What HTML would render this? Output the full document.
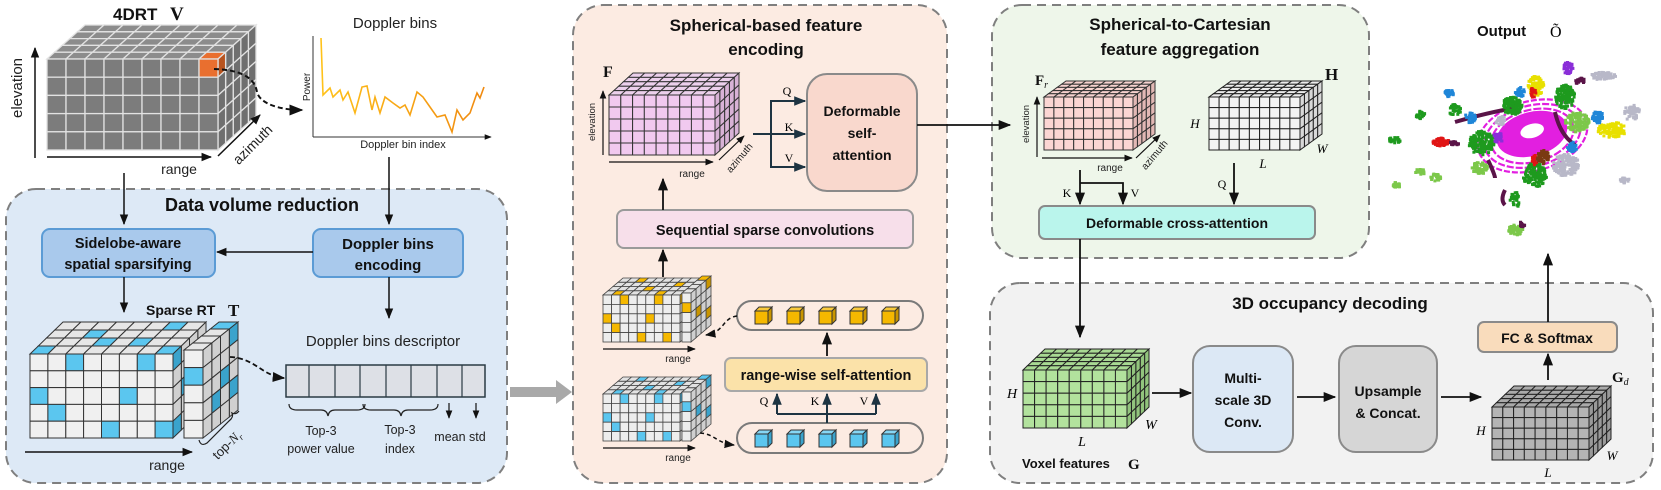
<!DOCTYPE html>
<html><head><meta charset="utf-8"><style>
html,body{margin:0;padding:0;background:#fff;}
svg{display:block;font-family:"Liberation Sans",sans-serif;}
.t{font-weight:bold;fill:#111;}
.s{font-family:"Liberation Serif",serif;}
</style></head><body>
<svg id="sv" width="1661" height="490" viewBox="0 0 1661 490" xmlns="http://www.w3.org/2000/svg">
<defs>
<marker id="ah" viewBox="0 0 10 10" refX="9" refY="5" markerWidth="7" markerHeight="7" orient="auto-start-reverse"><path d="M0,1 L10,5 L0,9 z" fill="#111"/></marker>
<marker id="ahs" viewBox="0 0 10 10" refX="9" refY="5" markerWidth="6" markerHeight="6" orient="auto"><path d="M0,1 L10,5 L0,9 z" fill="#1e3442"/></marker>
<linearGradient id="dg" x1="0" x2="1"><stop offset="0" stop-color="#ffc21a"/><stop offset="1" stop-color="#f08a10"/></linearGradient>
</defs>
<rect x="6" y="189" width="501" height="294" rx="30" fill="#dde9f6" stroke="#7f7f7f" stroke-width="2" stroke-dasharray="9,6"/>
<rect x="573" y="5" width="374" height="478" rx="30" fill="#fcebe2" stroke="#7f7f7f" stroke-width="2" stroke-dasharray="9,6"/>
<rect x="992" y="5" width="377" height="253" rx="30" fill="#eef6ea" stroke="#7f7f7f" stroke-width="2" stroke-dasharray="9,6"/>
<rect x="990" y="283" width="663" height="200" rx="30" fill="#f2f2f2" stroke="#7f7f7f" stroke-width="2" stroke-dasharray="9,6"/>
<g id="cubes"></g>
<g id="pc"></g>
<path d="M510,387 L556,387 L556,380 L572,392 L556,404 L556,397 L510,397 z" fill="#a9a9a9"/>

<text x="113" y="20" class="t" font-size="17">4DRT</text>
<text x="170" y="20" class="t s" font-size="19">V</text>
<line x1="35" y1="158" x2="35" y2="48" stroke="#111" stroke-width="1.5" marker-end="url(#ah)"/>
<text transform="translate(22,88) rotate(-90)" text-anchor="middle" font-size="15" fill="#222">elevation</text>
<line x1="47" y1="157" x2="211" y2="157" stroke="#111" stroke-width="1.5" marker-end="url(#ah)"/>
<text x="179" y="174" text-anchor="middle" font-size="14" fill="#222">range</text>
<line x1="218" y1="156" x2="260" y2="115" stroke="#111" stroke-width="1.5" marker-end="url(#ah)"/>
<text transform="translate(256,148) rotate(-45)" text-anchor="middle" font-size="14" fill="#222">azimuth</text>
<path d="M214,69 C245,70 255,80 257,92 C260,104 280,110 302,110" fill="none" stroke="#111" stroke-width="2" stroke-dasharray="5,3" marker-end="url(#ah)"/>

<text x="395" y="28" text-anchor="middle" font-size="15" fill="#222">Doppler bins</text>
<line x1="313" y1="137" x2="313" y2="36" stroke="#333" stroke-width="1"/>
<line x1="313" y1="137" x2="491" y2="137" stroke="#333" stroke-width="1" marker-end="url(#ah)"/>
<text transform="translate(310,87) rotate(-90)" text-anchor="middle" font-size="10" fill="#222">Power</text>
<text x="403" y="148" text-anchor="middle" font-size="11" fill="#222">Doppler bin index</text>
<polyline fill="none" stroke="url(#dg)" stroke-width="1.6" points="321,38 323,95 330,88 333,97 340,90 343,100 348,92 355,113 362,87 367,86 372,110 375,97 380,113 385,97 393,103 400,108 405,105 410,115 417,92 423,97 430,107 437,117 445,115 452,132 457,110 463,120 470,113 477,93 480,98 484,87"/>

<line x1="124" y1="173" x2="124" y2="224" stroke="#111" stroke-width="1.5" marker-end="url(#ah)"/>
<line x1="389" y1="157" x2="389" y2="224" stroke="#111" stroke-width="1.5" marker-end="url(#ah)"/>

<text x="262" y="211" text-anchor="middle" class="t" font-size="18">Data volume reduction</text>
<rect x="42" y="229" width="173" height="48" rx="8" fill="#a9c9ec" stroke="#5b9bd5" stroke-width="2"/>
<text x="128" y="248" text-anchor="middle" class="t" font-size="14.5">Sidelobe-aware</text>
<text x="128" y="269" text-anchor="middle" class="t" font-size="14.5">spatial sparsifying</text>
<rect x="313" y="229" width="150" height="48" rx="8" fill="#a9c9ec" stroke="#5b9bd5" stroke-width="2"/>
<text x="388" y="249" text-anchor="middle" class="t" font-size="15">Doppler bins</text>
<text x="388" y="270" text-anchor="middle" class="t" font-size="15">encoding</text>
<line x1="313" y1="252" x2="217" y2="252" stroke="#111" stroke-width="1.5" marker-end="url(#ah)"/>
<line x1="124" y1="277" x2="124" y2="312" stroke="#111" stroke-width="1.5" marker-end="url(#ah)"/>
<line x1="389" y1="277" x2="389" y2="318" stroke="#111" stroke-width="1.5" marker-end="url(#ah)"/>
<text x="146" y="315" class="t" font-size="14">Sparse RT</text>
<text x="228" y="316" class="t s" font-size="17">T</text>
<text x="383" y="346" text-anchor="middle" font-size="15" fill="#222">Doppler bins descriptor</text>
<g id="desc"></g>
<path d="M230,357 C255,358 262,376 284,378" fill="none" stroke="#111" stroke-width="1.8" stroke-dasharray="5,3" marker-end="url(#ah)"/>
<path d="M289,404 q0,6 8,6 h24 q6,0 7,6 q1,-6 7,-6 h22 q8,0 8,-6" fill="none" stroke="#222" stroke-width="1.2"/>
<path d="M363,404 q0,6 8,6 h23 q6,0 7,6 q1,-6 7,-6 h22 q8,0 8,-6" fill="none" stroke="#222" stroke-width="1.2"/>
<line x1="449" y1="403" x2="449" y2="418" stroke="#111" stroke-width="1.2" marker-end="url(#ah)"/>
<line x1="476" y1="403" x2="476" y2="418" stroke="#111" stroke-width="1.2" marker-end="url(#ah)"/>
<text x="321" y="435" text-anchor="middle" font-size="12.5" fill="#222">Top-3</text>
<text x="321" y="453" text-anchor="middle" font-size="12.5" fill="#222">power value</text>
<text x="400" y="434" text-anchor="middle" font-size="12.5" fill="#222">Top-3</text>
<text x="400" y="453" text-anchor="middle" font-size="12.5" fill="#222">index</text>
<text x="460" y="441" text-anchor="middle" font-size="12.5" fill="#222">mean std</text>
<path d="M199,440 q2,7 8,3 l22,-22 q5,-4 3,-8 q4,2 7,-2" fill="none" stroke="#222" stroke-width="1.2"/>
<text transform="translate(230,448) rotate(-45)" text-anchor="middle" font-size="13" fill="#222">top-<tspan class="s" font-style="italic">N<tspan font-size="9" dy="3">r</tspan></tspan></text>
<line x1="25" y1="452" x2="192" y2="452" stroke="#111" stroke-width="1.5" marker-end="url(#ah)"/>
<text x="167" y="470" text-anchor="middle" font-size="14" fill="#222">range</text>

<text x="766" y="31" text-anchor="middle" class="t" font-size="17">Spherical-based feature</text>
<text x="766" y="55" text-anchor="middle" class="t" font-size="17">encoding</text>
<text x="603" y="77" class="t s" font-size="16">F</text>
<line x1="603" y1="155" x2="603" y2="91" stroke="#111" stroke-width="1.2" marker-end="url(#ah)"/>
<text transform="translate(595,122) rotate(-90)" text-anchor="middle" font-size="9.5" fill="#222">elevation</text>
<line x1="609" y1="162" x2="713" y2="162" stroke="#111" stroke-width="1.2" marker-end="url(#ah)"/>
<text x="692" y="177" text-anchor="middle" font-size="10" fill="#222">range</text>
<line x1="719" y1="160" x2="744" y2="136" stroke="#111" stroke-width="1.2" marker-end="url(#ah)"/>
<text transform="translate(742,160) rotate(-50)" text-anchor="middle" font-size="10" fill="#222">azimuth</text>
<line x1="753" y1="134" x2="805" y2="134" stroke="#1e3442" stroke-width="2" marker-end="url(#ahs)"/>
<polyline points="805,101 771,101 771,167 805,167" fill="none" stroke="#1e3442" stroke-width="2"/>
<line x1="790" y1="101" x2="805" y2="101" stroke="#1e3442" stroke-width="2" marker-end="url(#ahs)"/>
<line x1="790" y1="167" x2="805" y2="167" stroke="#1e3442" stroke-width="2" marker-end="url(#ahs)"/>
<text x="787" y="95" text-anchor="middle" class="s" font-size="12">Q</text>
<text x="789" y="131" text-anchor="middle" class="s" font-size="12">K</text>
<text x="789" y="162" text-anchor="middle" class="s" font-size="12">V</text>
<rect x="807" y="74" width="110" height="117" rx="20" fill="#f9d8cd" stroke="#8a8a8a" stroke-width="2"/>
<text x="862" y="116" text-anchor="middle" class="t" font-size="14">Deformable</text>
<text x="862" y="138" text-anchor="middle" class="t" font-size="14">self-</text>
<text x="862" y="160" text-anchor="middle" class="t" font-size="14">attention</text>
<line x1="917" y1="125" x2="1010" y2="125" stroke="#111" stroke-width="1.8" marker-end="url(#ah)"/>
<rect x="617" y="210" width="296" height="38" rx="7" fill="#f7dfea" stroke="#9a9a9a" stroke-width="2"/>
<text x="765" y="235" text-anchor="middle" class="t" font-size="14.5">Sequential sparse convolutions</text>
<line x1="663" y1="210" x2="663" y2="179" stroke="#111" stroke-width="1.8" marker-end="url(#ah)"/>
<line x1="663" y1="277" x2="663" y2="250" stroke="#111" stroke-width="1.8" marker-end="url(#ah)"/>
<rect x="737" y="301" width="186" height="29" rx="14.5" fill="none" stroke="#7a7a7a" stroke-width="2"/>
<rect x="737" y="423" width="186" height="30" rx="15" fill="none" stroke="#7a7a7a" stroke-width="2"/>
<line x1="827" y1="356" x2="827" y2="333" stroke="#111" stroke-width="1.8" marker-end="url(#ah)"/>
<rect x="725" y="358" width="202" height="33" rx="6" fill="#fbe2a9" stroke="#a8a8a8" stroke-width="2"/>
<text x="826" y="380" text-anchor="middle" class="t" font-size="14.5">range-wise self-attention</text>
<polyline points="777,414 876,414" fill="none" stroke="#1e3442" stroke-width="2"/>
<line x1="777" y1="414" x2="777" y2="394" stroke="#1e3442" stroke-width="2" marker-end="url(#ahs)"/>
<line x1="876" y1="414" x2="876" y2="394" stroke="#1e3442" stroke-width="2" marker-end="url(#ahs)"/>
<line x1="827" y1="423" x2="827" y2="394" stroke="#1e3442" stroke-width="2" marker-end="url(#ahs)"/>
<text x="764" y="405" text-anchor="middle" class="s" font-size="12">Q</text>
<text x="815" y="405" text-anchor="middle" class="s" font-size="12">K</text>
<text x="864" y="405" text-anchor="middle" class="s" font-size="12">V</text>
<path d="M737,316 C722,318 725,332 706,335" fill="none" stroke="#111" stroke-width="1.5" stroke-dasharray="4,3" marker-end="url(#ah)"/>
<path d="M700,433 C715,434 716,443 734,445" fill="none" stroke="#111" stroke-width="1.5" stroke-dasharray="4,3" marker-end="url(#ah)"/>
<line x1="603" y1="349" x2="695" y2="349" stroke="#111" stroke-width="1.2" marker-end="url(#ah)"/>
<text x="678" y="362" text-anchor="middle" font-size="10" fill="#222">range</text>
<line x1="603" y1="448" x2="695" y2="448" stroke="#111" stroke-width="1.2" marker-end="url(#ah)"/>
<text x="678" y="461" text-anchor="middle" font-size="10" fill="#222">range</text>

<text x="1180" y="30" text-anchor="middle" class="t" font-size="17">Spherical-to-Cartesian</text>
<text x="1180" y="55" text-anchor="middle" class="t" font-size="17">feature aggregation</text>
<text x="1035" y="85" class="t s" font-size="15">F<tspan font-size="10" font-style="italic" font-weight="normal" dy="3">r</tspan></text>
<line x1="1037" y1="157" x2="1037" y2="97" stroke="#111" stroke-width="1.2" marker-end="url(#ah)"/>
<text transform="translate(1029,124) rotate(-90)" text-anchor="middle" font-size="9.5" fill="#222">elevation</text>
<line x1="1042" y1="158" x2="1132" y2="158" stroke="#111" stroke-width="1.2" marker-end="url(#ah)"/>
<text x="1110" y="171" text-anchor="middle" font-size="10" fill="#222">range</text>
<line x1="1136" y1="158" x2="1160" y2="135" stroke="#111" stroke-width="1.2" marker-end="url(#ah)"/>
<text transform="translate(1157,157) rotate(-50)" text-anchor="middle" font-size="10" fill="#222">azimuth</text>
<text x="1325" y="80" class="t s" font-size="17">H</text>
<text x="1195" y="128" text-anchor="middle" class="s" font-style="italic" font-size="13">H</text>
<text x="1322" y="153" text-anchor="middle" class="s" font-style="italic" font-size="13">W</text>
<text x="1263" y="168" text-anchor="middle" class="s" font-style="italic" font-size="13">L</text>
<line x1="1080" y1="170" x2="1080" y2="204" stroke="#111" stroke-width="1.8" marker-end="url(#ah)"/>
<polyline points="1080,183 1123,183 1123,195" fill="none" stroke="#111" stroke-width="1.8"/>
<line x1="1123" y1="190" x2="1123" y2="204" stroke="#111" stroke-width="1.8" marker-end="url(#ah)"/>
<text x="1067" y="197" text-anchor="middle" class="s" font-size="12">K</text>
<text x="1135" y="197" text-anchor="middle" class="s" font-size="12">V</text>
<line x1="1234" y1="163" x2="1234" y2="204" stroke="#111" stroke-width="1.8" marker-end="url(#ah)"/>
<text x="1222" y="188" text-anchor="middle" class="s" font-size="12">Q</text>
<rect x="1039" y="206" width="276" height="33" rx="6" fill="#baf5ec" stroke="#8a8a8a" stroke-width="2"/>
<text x="1177" y="228" text-anchor="middle" class="t" font-size="14">Deformable cross-attention</text>
<line x1="1080" y1="239" x2="1080" y2="337" stroke="#111" stroke-width="1.8" marker-end="url(#ah)"/>

<text x="1330" y="309" text-anchor="middle" class="t" font-size="17">3D occupancy decoding</text>
<text x="1012" y="398" text-anchor="middle" class="s" font-style="italic" font-size="14">H</text>
<text x="1151" y="429" text-anchor="middle" class="s" font-style="italic" font-size="14">W</text>
<text x="1082" y="446" text-anchor="middle" class="s" font-style="italic" font-size="14">L</text>
<text x="1022" y="468" class="t" font-size="13">Voxel features</text>
<text x="1128" y="469" class="t s" font-size="15">G</text>
<line x1="1152" y1="393" x2="1191" y2="393" stroke="#111" stroke-width="1.8" marker-end="url(#ah)"/>
<rect x="1193" y="346" width="100" height="106" rx="17" fill="#dce8f5" stroke="#8a8a8a" stroke-width="2"/>
<text x="1243" y="383" text-anchor="middle" class="t" font-size="14">Multi-</text>
<text x="1243" y="405" text-anchor="middle" class="t" font-size="14">scale 3D</text>
<text x="1243" y="427" text-anchor="middle" class="t" font-size="14">Conv.</text>
<line x1="1297" y1="397" x2="1335" y2="397" stroke="#111" stroke-width="1.8" marker-end="url(#ah)"/>
<rect x="1339" y="346" width="98" height="106" rx="17" fill="#d6d6d6" stroke="#8a8a8a" stroke-width="2"/>
<text x="1388" y="396" text-anchor="middle" class="t" font-size="14">Upsample</text>
<text x="1388" y="418" text-anchor="middle" class="t" font-size="14">&amp; Concat.</text>
<line x1="1441" y1="397" x2="1481" y2="397" stroke="#111" stroke-width="1.8" marker-end="url(#ah)"/>
<text x="1612" y="382" class="t s" font-size="15">G<tspan font-size="10" font-style="italic" font-weight="normal" dy="3">d</tspan></text>
<text x="1481" y="435" text-anchor="middle" class="s" font-style="italic" font-size="13">H</text>
<text x="1612" y="460" text-anchor="middle" class="s" font-style="italic" font-size="13">W</text>
<text x="1548" y="477" text-anchor="middle" class="s" font-style="italic" font-size="13">L</text>
<line x1="1548" y1="380" x2="1548" y2="354" stroke="#111" stroke-width="1.8" marker-end="url(#ah)"/>
<rect x="1478" y="322" width="139" height="30" rx="6" fill="#f9dcbc" stroke="#8a8a8a" stroke-width="2"/>
<text x="1547" y="343" text-anchor="middle" class="t" font-size="14">FC &amp; Softmax</text>
<line x1="1548" y1="322" x2="1548" y2="254" stroke="#111" stroke-width="1.8" marker-end="url(#ah)"/>
<text x="1477" y="36" class="t" font-size="15">Output</text>
<text x="1550" y="37" class="s" font-size="16">Õ</text>
</svg>
<script>
var S='';
function P(pts,f,st,sw){return '<polygon points="'+pts.map(function(p){return p[0].toFixed(1)+','+p[1].toFixed(1)}).join(' ')+'" fill="'+f+'" stroke="'+st+'" stroke-width="'+sw+'"/>';}
function cube(o){
 var cw=o.w/o.c, ch=o.h/o.r, ddx=o.dx/o.n, ddy=o.dy/o.n, s='';
 var hl=o.hl||{}, key=function(a,b,c){return a+'_'+b+'_'+c;};
 var H={}; (hl.f||[]).forEach(function(p){H[key('f',p[0],p[1])]=1;});(hl.t||[]).forEach(function(p){H[key('t',p[0],p[1])]=1;});(hl.s||[]).forEach(function(p){H[key('s',p[0],p[1])]=1;});
 for(var d=o.n-1;d>=0;d--)for(var c=0;c<o.c;c++){var bx=o.x+c*cw+d*ddx,by=o.y+d*ddy;
  s+=P([[bx,by],[bx+cw,by],[bx+cw+ddx,by+ddy],[bx+ddx,by+ddy]],H[key('t',c,d)]?o.hc:o.tf,o.st,o.sw);}
 for(var d=o.n-1;d>=0;d--)for(var r=0;r<o.r;r++){var bx=o.x+o.w+d*ddx,by=o.y+r*ch+d*ddy;
  s+=P([[bx,by],[bx+ddx,by+ddy],[bx+ddx,by+ddy+ch],[bx,by+ch]],H[key('s',d,r)]?o.hcs||o.hc:o.sf,o.st,o.sw);}
 for(var r=0;r<o.r;r++)for(var c=0;c<o.c;c++){
  s+='<rect x="'+(o.x+c*cw).toFixed(1)+'" y="'+(o.y+r*ch).toFixed(1)+'" width="'+cw.toFixed(1)+'" height="'+ch.toFixed(1)+'" fill="'+(H[key('f',c,r)]?o.hc:o.ff)+'" stroke="'+o.st+'" stroke-width="'+o.sw+'"/>';}
 S+=s;
}
cube({x:47,y:59,w:171,h:91,c:9,r:5,n:5,dx:38,dy:-34,ff:'#7c7c7c',tf:'#8c8c8c',sf:'#6f6f6f',st:'#e2e2e2',sw:1.3,hc:'#e96f2f',hcs:'#b8541f',hl:{f:[[8,0]],t:[[8,0]],s:[[0,0]]}});
var bluePat={f:[[2,0],[6,0],[0,2],[5,2],[1,3],[4,4],[7,4]],t:[[0,0],[3,1],[6,3],[2,2],[5,1],[7,0]],s:[[0,0],[1,2],[2,1],[3,3],[0,4]]};
cube({x:30,y:354,w:143,h:84,c:8,r:5,n:4,dx:33,dy:-32,ff:'#f0f0f0',tf:'#e6e6e6',sf:'#d0d0d0',st:'#333',sw:1,hc:'#5bc6ef',hcs:'#3aa3cc',hl:bluePat});
cube({x:184,y:350,w:19,h:88,c:1,r:5,n:4,dx:35,dy:-28,ff:'#f0f0f0',tf:'#e6e6e6',sf:'#d0d0d0',st:'#333',sw:1,hc:'#5bc6ef',hcs:'#3aa3cc',hl:{f:[[0,1]],t:[[0,3]],s:[[3,0],[2,2],[1,3],[3,3]]}});
cube({x:609,y:95,w:106,h:60,c:9,r:5,n:5,dx:24,dy:-22,ff:'#f1c9ef',tf:'#ecd0ec',sf:'#d8b2d6',st:'#333',sw:1});
function small(y,col,cs){
 var pat={f:[[2,0],[6,0],[0,2],[5,2],[1,3],[4,4],[7,4]],t:[[1,0],[4,1],[7,2],[2,3],[6,0]],s:[[0,0],[2,2],[1,4]]};
 cube({x:603,y:y,w:77,h:47,c:9,r:5,n:4,dx:20,dy:-17,ff:'#ededed',tf:'#e2e2e2',sf:'#cfcfcf',st:'#444',sw:0.8,hc:col,hcs:cs,hl:pat});
 cube({x:682,y:y-2,w:9,h:49,c:1,r:5,n:4,dx:20,dy:-17,ff:'#ededed',tf:'#e2e2e2',sf:'#cfcfcf',st:'#444',sw:0.8,hc:col,hcs:cs,hl:{f:[[0,1]],t:[[0,3]],s:[[3,0],[1,2],[3,3]]}});
}
small(295,'#f5b800','#c99500');small(394,'#5bc6ef','#3aa3cc');
[763,795,827,858,890].forEach(function(cx){
 cube({x:cx-8,y:311,w:13,h:13,c:1,r:1,n:1,dx:4,dy:-4,ff:'#f5b800',tf:'#f9c93a',sf:'#c99500',st:'#333',sw:1});
 cube({x:cx-8,y:434,w:13,h:13,c:1,r:1,n:1,dx:4,dy:-4,ff:'#5bc6ef',tf:'#86d6f4',sf:'#3aa3cc',st:'#333',sw:1});
});
cube({x:1044,y:97,w:89,h:53,c:9,r:5,n:5,dx:22,dy:-16,ff:'#fbd6d3',tf:'#f6d2cf',sf:'#e2b8b5',st:'#333',sw:1});
cube({x:1209,y:97,w:91,h:53,c:9,r:5,n:5,dx:22,dy:-16,ff:'#f3f3f3',tf:'#ececec',sf:'#d8d8d8',st:'#222',sw:1});
cube({x:1023,y:370,w:104,h:58,c:9,r:5,n:5,dx:22,dy:-21,ff:'#b2e29d',tf:'#a8d993',sf:'#92c47d',st:'#222',sw:1});
cube({x:1492,y:407,w:97,h:53,c:9,r:5,n:5,dx:22,dy:-21,ff:'#b4b4b4',tf:'#aaaaaa',sf:'#9a9a9a',st:'#222',sw:1});
document.getElementById('cubes').innerHTML=S;
var xs=[286,309,335,360,386,411,437,462,485],d='<rect x="286" y="365" width="199" height="32" fill="#dde0e6" stroke="#2a3a44" stroke-width="1.5"/>';
for(var i=1;i<8;i++)d+='<line x1="'+xs[i]+'" y1="365" x2="'+xs[i]+'" y2="397" stroke="#2a3a44" stroke-width="1.2"/>';
document.getElementById('desc').innerHTML=d;
var seed=7;function rnd(){seed=(seed*16807)%2147483647;return seed/2147483647;}
var pc='';
function blob(cx,cy,rx,ry,col,n,rs){n=n*2;rs=rs||3;for(var i=0;i<n;i++){var a=rnd()*6.283,r=Math.sqrt(rnd());pc+='<rect x="'+(cx+Math.cos(a)*r*rx-rs/2).toFixed(1)+'" y="'+(cy+Math.sin(a)*r*ry-rs/2).toFixed(1)+'" width="'+rs+'" height="'+rs+'" fill="'+col+'"/>';}}
var g='<g transform="rotate(-15 1532 134)">';
g+='<ellipse cx="1532" cy="134" rx="36" ry="22" fill="#e21fe0"/>';
[42,49,56].forEach(function(r,i){g+='<ellipse cx="1532" cy="136" rx="'+r+'" ry="'+(r*0.62)+'" fill="none" stroke="#e21fe0" stroke-width="2.2" stroke-dasharray="'+(8-i)+',2"/>';});
g+='<ellipse cx="1533" cy="131" rx="12" ry="7" fill="#fff"/></g>';
pc+=g;
pc+='<path d="M1455,122 Q1490,112 1515,108" stroke="#5a1448" stroke-width="4" fill="none"/>';
pc+='<path d="M1555,112 Q1560,135 1575,145" stroke="#5a1448" stroke-width="4" fill="none"/>';
pc+='<path d="M1488,160 Q1495,175 1495,178" stroke="#5a1448" stroke-width="4" fill="none"/>';
pc+='<path d="M1505,190 Q1500,200 1505,205" stroke="#5a1448" stroke-width="4" fill="none"/>';
blob(1512,106,10,9,'#1e9a1e',60);blob(1565,97,10,12,'#1e9a1e',60);blob(1482,143,13,12,'#1e9a1e',70);blob(1535,175,12,12,'#1e9a1e',70);
blob(1455,110,6,6,'#1e9a1e',15);blob(1420,115,5,4,'#1e9a1e',12);blob(1395,140,6,3,'#1e9a1e',12);blob(1515,200,5,8,'#1e9a1e',15);
blob(1577,122,12,10,'#7cc84a',60);blob(1480,168,8,6,'#7cc84a',25);blob(1516,230,8,5,'#7cc84a',25);blob(1435,178,6,4,'#7cc84a',12);blob(1397,185,4,3,'#7cc84a',8);blob(1420,172,5,3,'#7cc84a',8);
blob(1536,86,8,10,'#e8e000',50);blob(1612,130,14,8,'#e8e000',60);
blob(1566,165,13,11,'#b8b8c8',70);blob(1603,76,13,4,'#b8b8c8',30);blob(1632,113,8,8,'#b8b8c8',25);blob(1625,180,5,3,'#b8b8c8',10);blob(1500,120,5,5,'#b8b8c8',12);
blob(1441,142,8,4,'#e01515',30);blob(1533,93,3,5,'#e01515',10);blob(1535,160,3,5,'#e01515',10);
blob(1520,92,5,5,'#1f86d8',15);blob(1598,117,6,6,'#1f86d8',20);blob(1572,147,5,5,'#1f86d8',15);blob(1470,118,6,5,'#1f86d8',15);blob(1450,93,5,4,'#1f86d8',12);
blob(1543,157,6,7,'#7a3a12',25);blob(1568,68,5,6,'#8a2ed8',20);blob(1498,138,5,5,'#8a2ed8',15);
blob(1455,143,5,2,'#5a1448',10);blob(1580,81,5,3,'#5a1448',10);blob(1522,224,3,3,'#5a1448',6);
document.getElementById('pc').innerHTML=pc;
</script>
</body></html>
